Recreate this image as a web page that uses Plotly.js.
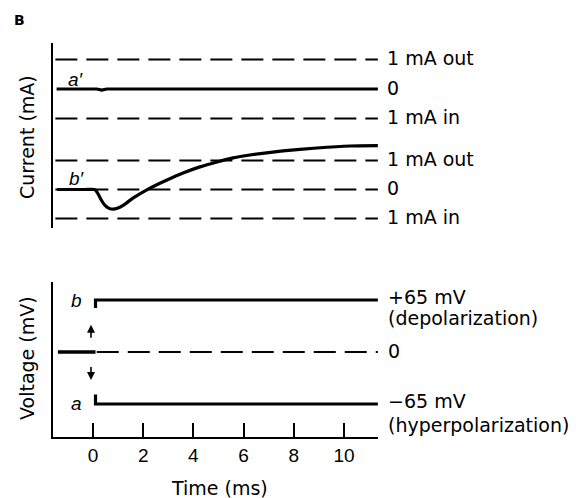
<!DOCTYPE html>
<html>
<head>
<meta charset="utf-8">
<script src="https://cdn.plot.ly/plotly-3.0.1.min.js"></script>
<style>html,body{margin:0;padding:0;background:#fff;}</style>
</head>
<body>
<div id="chart" style="width:584px;height:498px;"></div>
<script>
// ---------- data ----------
// a' : current trace for hyperpolarizing step (mA)
const timeAp = [-1.45, 0.15, 0.35, 0.55, 11.35];
const currentAp = [0, 0, -0.04, 0, 0];
// b' : current trace for depolarizing step (mA)
const timeBp = [-1.43, -0.30, 0.05, 0.12, 0.22, 0.34, 0.48, 0.64, 0.80, 1.00, 1.20, 1.59, 2.27, 2.95, 3.59, 4.26, 4.94, 5.58, 6.25, 7.57, 8.92, 10.24, 11.35];
const currentBp = [0, 0, 0, -0.04, -0.18, -0.38, -0.55, -0.65, -0.68, -0.64, -0.55, -0.30, 0.05, 0.33, 0.57, 0.78, 0.95, 1.09, 1.19, 1.33, 1.43, 1.50, 1.51];
// voltage steps (mV)
const timeHold = [-1.40, 0.10];
const voltHold = [0, 0];
const timeStepB = [0.10, 0.10, 11.35];
const voltStepB = [55, 65, 65];
const timeStepA = [0.10, 0.10, 11.35];
const voltStepA = [-53, -65, -65];
// reference (dashed) levels
const refLevelsA = [1, -1];
const refLevelsB = [1, 0, -1];
const refLevelsV = [0];
const refLabelsA = ['1 mA out', '0', '1 mA in'];
const refValsA = [1, 0, -1];
const refLabelsB = ['1 mA out', '0', '1 mA in'];
const refValsB = [1, 0, -1];
const timeTicks = [0, 2, 4, 6, 8, 10];
const tickLabels = ['0', '2', '4', '6', '8', '10'];
const refStart = -1.5, refEnd = 11.35, refStartV = 0.15;

// ---------- helpers ----------
const W = 584, H = 498;
const px = v => v / W;
const py = v => 1 - v / H;
const DASH = '22px,9px';
const LAB = 'DejaVu Sans, sans-serif';

const traces = [];
function dashed(levels, xa, ya, x0) {
  levels.forEach(l => traces.push({
    x: [x0, refEnd], y: [l, l], xaxis: xa, yaxis: ya, mode: 'lines',
    line: {color: '#000', width: 2, dash: DASH}, hoverinfo: 'skip', showlegend: false
  }));
}
dashed(refLevelsA, 'x', 'y', refStart);
dashed(refLevelsB, 'x', 'y2', refStart);
dashed(refLevelsV, 'x2', 'y3', refStartV);

const thick = {color: '#000', width: 3.2};
traces.push({x: timeAp, y: currentAp, xaxis: 'x', yaxis: 'y', mode: 'lines', line: thick, showlegend: false});
traces.push({x: timeBp, y: currentBp, xaxis: 'x', yaxis: 'y2', mode: 'lines', line: Object.assign({shape: 'spline', smoothing: 0.4}, thick), showlegend: false});
traces.push({x: timeHold, y: voltHold, xaxis: 'x2', yaxis: 'y3', mode: 'lines', line: {color: '#000', width: 3.5}, showlegend: false});
traces.push({x: timeStepB, y: voltStepB, xaxis: 'x2', yaxis: 'y3', mode: 'lines', line: thick, showlegend: false});
traces.push({x: timeStepA, y: voltStepA, xaxis: 'x2', yaxis: 'y3', mode: 'lines', line: thick, showlegend: false});

const xRange = [-1.594, 11.355];
const xDom = [px(53), px(378)];
const yBase = {showgrid: false, zeroline: false, showticklabels: false, ticks: '',
  showline: true, linecolor: '#000', linewidth: 2, anchor: 'x', fixedrange: true};

const ann = [];
function lbl(text, x, xref, y, yref, opts) {
  ann.push(Object.assign({text: text, x: x, xref: xref, y: y, yref: yref, showarrow: false,
    xanchor: 'left', yanchor: 'middle', font: {family: LAB, size: 19, color: '#000'}}, opts || {}));
}
refLabelsA.forEach((t, i) => lbl(t, px(385), 'paper', refValsA[i], 'y', {yshift: 1}));
refLabelsB.forEach((t, i) => lbl(t, px(385), 'paper', refValsB[i], 'y2', {yshift: 1}));
lbl('+65 mV', px(386), 'paper', 65, 'y3', {yshift: 3});
lbl('(depolarization)', px(386), 'paper', 65, 'y3', {yshift: -18});
lbl('0', px(386), 'paper', 0, 'y3', {yshift: 1});
lbl('\u221265 mV', px(386), 'paper', -65, 'y3', {yshift: 3});
lbl('(hyperpolarization)', px(386), 'paper', -65, 'y3', {yshift: -21});
// trace letters
const it = {family: 'Liberation Sans, Arial, sans-serif', size: 19, color: '#000'};
lbl('<i>a\u2032</i>', -0.68, 'x', 0, 'y', {xanchor: 'center', yshift: 9, font: it});
lbl('<i>b\u2032</i>', -0.62, 'x', 0, 'y2', {xanchor: 'center', yshift: 11, font: it});
lbl('<i>b</i>', -0.64, 'x2', 65, 'y3', {xanchor: 'center', yshift: 0, font: it});
lbl('<i>a</i>', -0.64, 'x2', -65, 'y3', {xanchor: 'center', yshift: 1, font: it});
// axis titles
lbl('Current (mA)', px(27), 'paper', py(137), 'paper', {xanchor: 'center', textangle: -90, font: {family: LAB, size: 19, color: '#000'}});
lbl('Voltage (mV)', px(27), 'paper', py(358), 'paper', {xanchor: 'center', textangle: -90, font: {family: LAB, size: 19, color: '#000'}});
lbl('Time (ms)', px(219), 'paper', py(488), 'paper', {xanchor: 'center', font: {family: LAB, size: 19, color: '#000'}});
lbl('<b>B</b>', px(19), 'paper', py(20), 'paper', {xanchor: 'center', font: {family: 'DejaVu Sans, sans-serif', size: 14, color: '#000'}});
// step arrows
ann.push({x: -0.08, y: 34, xref: 'x2', yref: 'y3', ax: -0.08, ay: 16, axref: 'x2', ayref: 'y3',
  showarrow: true, arrowhead: 2, arrowsize: 1, arrowwidth: 1.6, arrowcolor: '#000', text: ''});
ann.push({x: -0.08, y: -35, xref: 'x2', yref: 'y3', ax: -0.08, ay: -17, axref: 'x2', ayref: 'y3',
  showarrow: true, arrowhead: 2, arrowsize: 1, arrowwidth: 1.6, arrowcolor: '#000', text: ''});

const layout = {
  width: W, height: H, autosize: false,
  margin: {l: 0, r: 0, t: 0, b: 0},
  paper_bgcolor: '#fff', plot_bgcolor: 'rgba(0,0,0,0)',
  showlegend: false,
  xaxis: {domain: xDom, range: xRange, anchor: 'y2', visible: false, fixedrange: true},
  xaxis2: {domain: xDom, range: xRange, anchor: 'y3', showgrid: false, zeroline: false,
    showline: true, linecolor: '#000', linewidth: 2,
    ticks: 'inside', ticklen: 14, tickwidth: 2, tickcolor: '#000',
    tickvals: timeTicks, ticktext: tickLabels,
    tickfont: {family: 'Liberation Sans, Arial, sans-serif', size: 19, color: '#000'}, fixedrange: true},
  yaxis: Object.assign({}, yBase, {domain: [py(140), py(43)], range: [-1.729, 1.559]}),
  yaxis2: Object.assign({}, yBase, {domain: [py(228), py(140)], range: [-1.328, 1.707]}),
  yaxis3: Object.assign({}, yBase, {anchor: 'x2', domain: [py(437), py(282)], range: [-106.25, 87.5]}),
  annotations: ann
};
Plotly.newPlot('chart', traces, layout, {staticPlot: true, displayModeBar: false});
</script>
</body>
</html>
